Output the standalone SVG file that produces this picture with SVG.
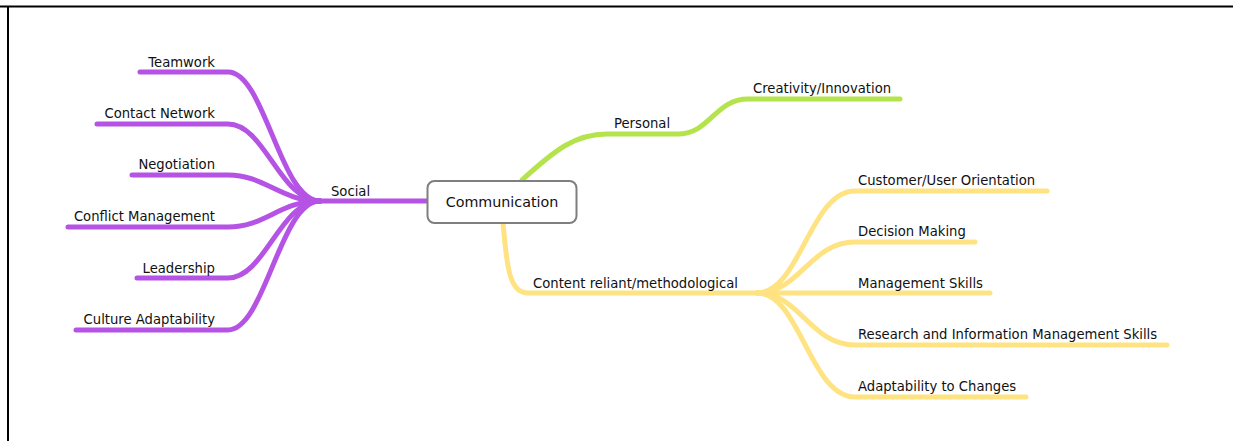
<svg xmlns="http://www.w3.org/2000/svg" width="1233" height="441" viewBox="0 0 1233 441">
<style>
text{font-family:"DejaVu Sans","Liberation Sans",sans-serif;font-size:13.2px;fill:#111}
.end{text-anchor:end}
.c{fill:none;stroke-width:5;stroke-linecap:round}
.p{stroke:#B553E5}
.g{stroke:#B4E34C}
.y{stroke:#FFE382}
</style>
<rect width="1233" height="441" fill="#fff"/>
<path d="M0,6.5H1233M8,6.5V441" fill="none" stroke="#000" stroke-width="2"/>
<g id="connectors">
<path class="c p" d="M140,72H228C265,72 280,201 320,201"/>
<path class="c p" d="M97,124H228C265,124 280,201 320,201"/>
<path class="c p" d="M132,175H228C265,175 280,201 320,201"/>
<path class="c p" d="M68,227H228C265,227 280,201 320,201"/>
<path class="c p" d="M137,278H228C265,278 280,201 320,201"/>
<path class="c p" d="M76,330H228C265,330 280,201 320,201"/>
<path class="c p" d="M318,201H428"/>
<path class="c g" d="M522,180C555,150 575,134 607,134H678C710,134 715,99 748,99H900"/>
<path class="c y" d="M503,223C507,270 510,293 528,293H757"/>
<path class="c y" d="M757,293C800,293 810,191 855,191H1047"/>
<path class="c y" d="M757,293C800,293 810,242 855,242H975"/>
<path class="c y" d="M757,293H990"/>
<path class="c y" d="M757,293C800,293 810,345 855,345H1167"/>
<path class="c y" d="M757,293C800,293 810,397 855,397H1026"/>
</g>
<g id="communication">
<rect x="427.5" y="181" width="149" height="42" rx="7" fill="#fff" stroke="#7f7f7f" stroke-width="2"/>
<text x="502" y="207" text-anchor="middle" style="font-size:14.3px">Communication</text>
</g>
<g id="social"><text x="331" y="196">Social</text></g>
<g id="teamwork"><text class="end" x="215" y="67">Teamwork</text></g>
<g id="contact-network"><text class="end" x="215" y="118">Contact Network</text></g>
<g id="negotiation"><text class="end" x="215" y="169">Negotiation</text></g>
<g id="conflict-management"><text class="end" x="215" y="221">Conflict Management</text></g>
<g id="leadership"><text class="end" x="215" y="273">Leadership</text></g>
<g id="culture-adaptability"><text class="end" x="215" y="324">Culture Adaptability</text></g>
<g id="personal"><text x="614" y="128">Personal</text></g>
<g id="creativity"><text x="753" y="93">Creativity/Innovation</text></g>
<g id="content"><text x="533" y="288">Content reliant/methodological</text></g>
<g id="customer"><text x="858" y="185">Customer/User Orientation</text></g>
<g id="decision"><text x="858" y="236">Decision Making</text></g>
<g id="management"><text x="858" y="288">Management Skills</text></g>
<g id="research"><text x="858" y="339">Research and Information Management Skills</text></g>
<g id="adaptability"><text x="858" y="391">Adaptability to Changes</text></g>
</svg>
